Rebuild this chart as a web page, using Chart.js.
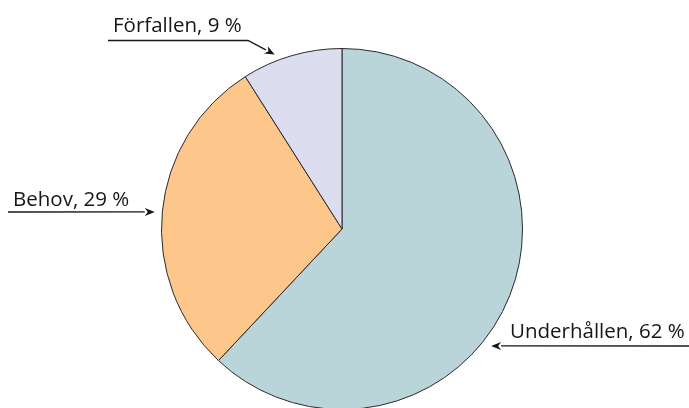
<!DOCTYPE html>
<html>
<head>
<meta charset="utf-8">
<script src="https://cdn.jsdelivr.net/npm/chart.js@4/dist/chart.umd.min.js"></script>
<style>
html,body{margin:0;padding:0;background:#fff;overflow:hidden;width:689px;height:408px;}
#wrap{position:relative;width:689px;height:420px;}
</style>
</head>
<body>
<div id="wrap"><canvas id="c"></canvas></div>
<script>
const categories = ["Underhållen", "Behov", "Förfallen"];
const shares = [62, 29, 9];
const sliceColors = ["#bad5d9", "#fdc78c", "#dcdef0"];

// label annotations: text position and arrow tip (polar, clockwise degrees from top)
const labelLayout = [
  { idx: 0, textX: 510, baseY: 338, lineY: 346, lineFrom: 689, tipDeg: 128.1, tipR: 189.5, bend: null },
  { idx: 1, textX: 13,  baseY: 206, lineY: 212, lineFrom: 8,   tipDeg: 275.2, tipR: 188,   bend: null },
  { idx: 2, textX: 113, baseY: 32,  lineY: 40.5, lineFrom: 108, tipDeg: 338.9, tipR: 187, bend: 248 }
];

const labelPlugin = {
  id: 'arrowLabels',
  afterDraw(chart) {
    const ctx = chart.ctx;
    const arc = chart.getDatasetMeta(0).data[0];
    const cx = arc.x, cy = arc.y;
    ctx.save();
    ctx.font = '20.5px "Open Sans", sans-serif';
    ctx.fillStyle = '#161616';
    ctx.strokeStyle = '#161616';
    ctx.lineWidth = 1.3;
    labelLayout.forEach(l => {
      const text = categories[l.idx] + ', ' + shares[l.idx] + ' %';
      ctx.textBaseline = 'alphabetic';
      ctx.textAlign = 'left';
      ctx.fillText(text, l.textX, l.baseY);
      const a = (l.tipDeg - 90) * Math.PI / 180;
      const tx = cx + l.tipR * Math.cos(a);
      const ty = cy + l.tipR * Math.sin(a);
      let sx, sy;
      ctx.beginPath();
      ctx.moveTo(l.lineFrom, l.lineY);
      if (l.bend !== null) {
        ctx.lineTo(l.bend, l.lineY);
        sx = l.bend; sy = l.lineY;
      } else {
        sx = l.lineFrom; sy = l.lineY;
      }
      const ang = Math.atan2(ty - sy, tx - sx);
      const hl = 10, hw = 4;
      const bx = tx - hl * Math.cos(ang), by = ty - hl * Math.sin(ang);
      ctx.lineTo(bx, by);
      ctx.stroke();
      ctx.beginPath();
      ctx.moveTo(tx, ty);
      ctx.lineTo(bx + hw * Math.sin(ang), by - hw * Math.cos(ang));
      ctx.lineTo(tx - 7 * Math.cos(ang), ty - 7 * Math.sin(ang));
      ctx.lineTo(bx - hw * Math.sin(ang), by + hw * Math.cos(ang));
      ctx.closePath();
      ctx.fill();
    });
    ctx.restore();
  }
};

new Chart(document.getElementById('c'), {
  type: 'pie',
  data: {
    labels: categories,
    datasets: [{
      data: shares,
      backgroundColor: sliceColors,
      borderColor: '#2a2a2a',
      borderWidth: 1,
      borderAlign: 'center'
    }]
  },
  options: {
    responsive: true,
    maintainAspectRatio: false,
    animation: false,
    layout: { padding: { top: 48, bottom: 10, left: 0, right: 5 } },
    plugins: { legend: { display: false }, tooltip: { enabled: false } }
  },
  plugins: [labelPlugin]
});
</script>
</body>
</html>
